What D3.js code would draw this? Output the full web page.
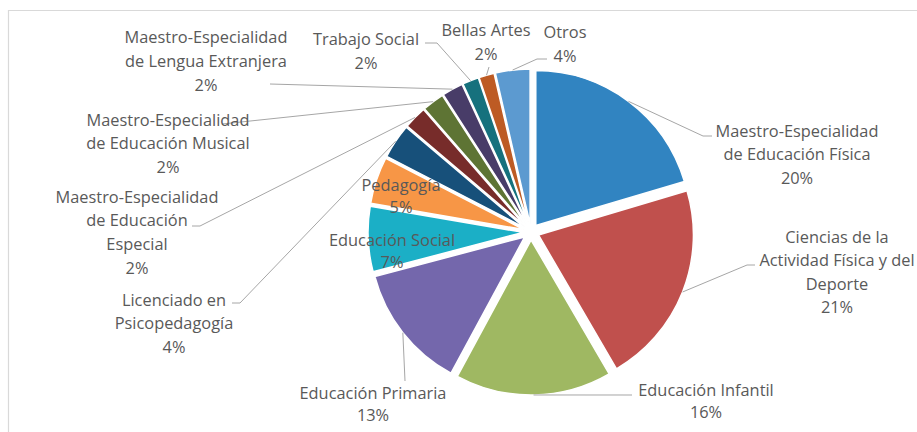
<!DOCTYPE html>
<html>
<head>
<meta charset="utf-8">
<script src="https://cdn.jsdelivr.net/npm/d3@7"></script>
<style>
  html, body { margin: 0; padding: 0; background: #fff; }
  svg { display: block; }
  text { font-family: "Open Sans", Lato, sans-serif; fill: #595959; }
</style>
</head>
<body>
<svg id="chart" width="917" height="432"></svg>
<script>
// ---- data ----
const categories = [
  "Maestro-Especialidad de Educación Física",
  "Ciencias de la Actividad Física y del Deporte",
  "Educación Infantil",
  "Educación Primaria",
  "Educación Social",
  "Pedagogía",
  "Licenciado en Psicopedagogía",
  "Maestro-Especialidad de Educación Especial",
  "Maestro-Especialidad de Educación Musical",
  "Maestro-Especialidad de Lengua Extranjera",
  "Trabajo Social",
  "Bellas Artes",
  "Otros"
];
const values = [20.4, 21.2, 16.3, 13.0, 6.8, 4.9, 3.6, 2.4, 2.3, 2.2, 1.7, 1.6, 3.6];
const colors = ["#3184c1", "#c0504d", "#9fb862", "#7467ac", "#1bafc6", "#f79646",
                "#17507a", "#772c2a", "#5e7434", "#483c68", "#16717d", "#bd5b24", "#5c9ad0"];
// label lines as they wrap in the original
const labelLines = [
  ["Maestro-Especialidad", "de Educación Física"],
  ["Ciencias de la", "Actividad Física y del", "Deporte"],
  ["Educación Infantil"],
  ["Educación Primaria"],
  ["Educación Social"],
  ["Pedagogía"],
  ["Licenciado en", "Psicopedagogía"],
  ["Maestro-Especialidad", "de Educación", "Especial"],
  ["Maestro-Especialidad", "de Educación Musical"],
  ["Maestro-Especialidad", "de Lengua Extranjera"],
  ["Trabajo Social"],
  ["Bellas Artes"],
  ["Otros"]
];

// ---- layout ----
const W = 917, H = 432;
const cx = 531, cy = 232, R = 155, explode = 8;
// label placement: text centre x, first line centre y, line step, leader points (label side)
const labelLayout = [
  { x: 797, y: 131, lh: 23.5, leader: [[712, 136], [703, 136]] },
  { x: 837, y: 237, lh: 23.5, leader: [[755, 265], [747, 265]] },
  { x: 706, y: 390, lh: 22.5, leader: [[632, 395]] },
  { x: 373, y: 393, lh: 22.5, leader: [[405, 381]] },
  { x: 392, y: 240, lh: 22.5, leader: null },
  { x: 401, y: 185, lh: 22.5, leader: null },
  { x: 174, y: 300, lh: 23.5, leader: [[232, 303], [240, 303]] },
  { x: 137, y: 197, lh: 23.7, leader: [[192, 226], [200, 226]] },
  { x: 168, y: 120, lh: 23.5, leader: [[222, 124]] },
  { x: 206, y: 37, lh: 24, leader: [[270, 84]] },
  { x: 366, y: 39, lh: 24, leader: [[425, 43], [437, 43]] },
  { x: 486, y: 30, lh: 24, leader: [[489, 67]] },
  { x: 565, y: 32, lh: 24, leader: [[547, 59], [537, 59]] }
];

const svg = d3.select("#chart");

// fit font size so the reference word width is matched
const probe = svg.append("text").attr("font-size", 16).text("Maestro-Especialidad");
const pw = probe.node().getComputedTextLength();
probe.remove();
const fontSize = Math.max(13, Math.min(19, 16 * 163 / (pw || 163)));

// chart border
svg.append("path")
  .attr("d", `M8.5,${H} V10.5 H${W}`)
  .attr("fill", "none").attr("stroke", "#d9d9d9").attr("stroke-width", 1.2);

const data = categories.map((c, i) => ({ name: c, value: values[i], i }));
const total = d3.sum(values);
const pie = d3.pie().value(d => d.value).sort(null);
const arcs = pie(data);
const arc = d3.arc().innerRadius(0).outerRadius(R);

const g = svg.append("g").attr("transform", `translate(${cx},${cy})`);

function offset(d, r) {
  const a = (d.startAngle + d.endAngle) / 2;
  return [Math.sin(a) * r, -Math.cos(a) * r];
}

g.selectAll("path.slice")
  .data(arcs)
  .join("path")
  .attr("class", "slice")
  .attr("d", arc)
  .attr("transform", d => { const o = offset(d, explode); return `translate(${o[0]},${o[1]})`; })
  .attr("fill", d => colors[d.data.i])
  .attr("stroke", "#fff")
  .attr("stroke-width", 1.5);

// leader lines
arcs.forEach(d => {
  const L = labelLayout[d.data.i];
  if (!L.leader) return;
  const o = offset(d, R + explode);
  const start = [cx + o[0], cy + o[1]];
  const pts = [start].concat(L.leader.slice().reverse());
  svg.append("path")
    .attr("d", d3.line()(pts))
    .attr("fill", "none")
    .attr("stroke", "#a6a6a6")
    .attr("stroke-width", 1);
});

// labels
arcs.forEach(d => {
  const i = d.data.i;
  const L = labelLayout[i];
  const pct = Math.round(d.data.value / total * 100) + "%";
  const lines = labelLines[i].concat([pct]);
  const t = svg.append("text")
    .attr("text-anchor", "middle")
    .attr("font-size", fontSize);
  lines.forEach((s, k) => {
    t.append("tspan")
      .attr("x", L.x)
      .attr("y", L.y + k * L.lh)
      .attr("dy", "0.35em")
      .text(s);
  });
});
</script>
</body>
</html>
